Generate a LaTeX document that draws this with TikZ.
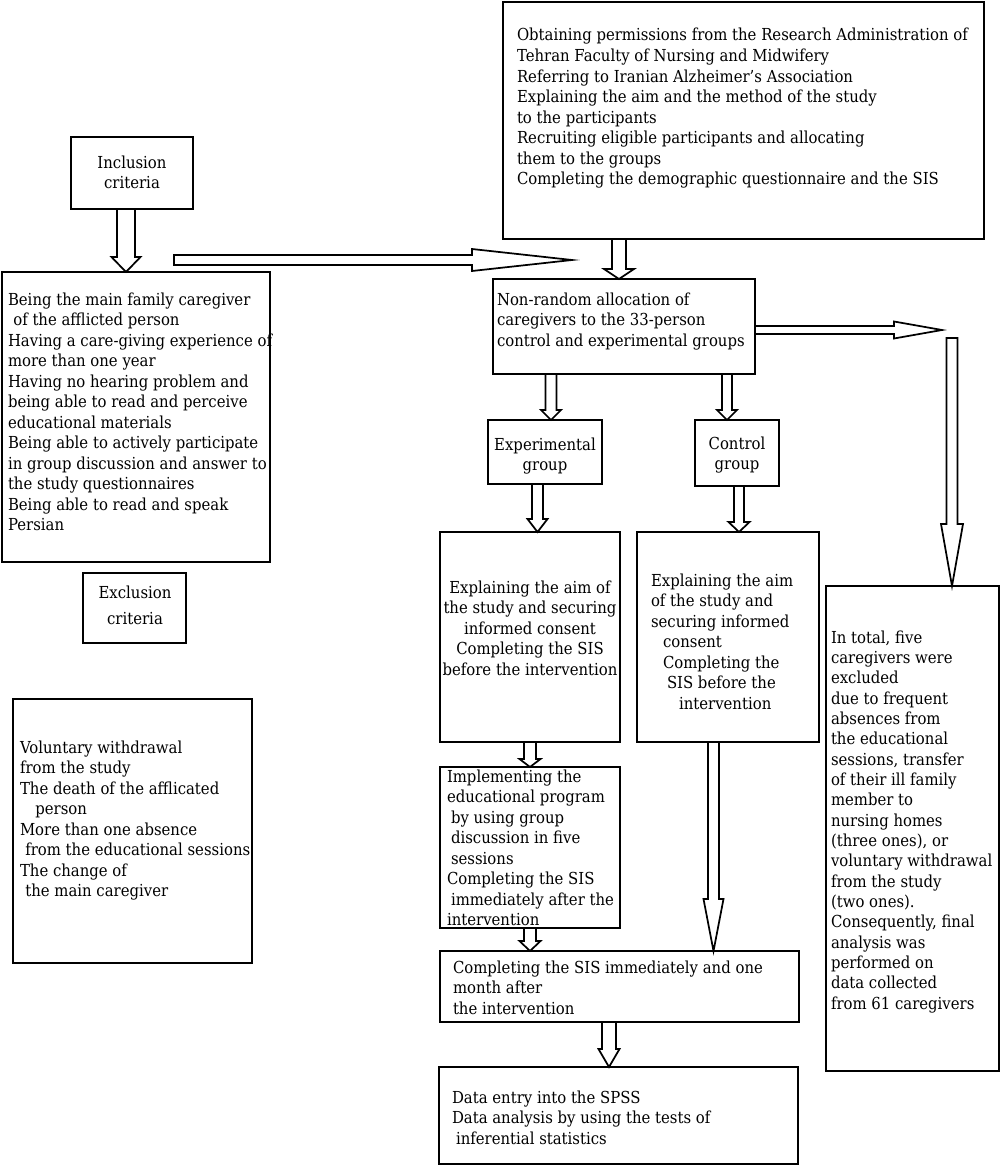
\documentclass[tikz,border=0pt]{standalone}
\usepackage{fontspec}
\setmainfont{DejaVu Serif}[FakeStretch=0.9]
\usetikzlibrary{calc}
\tikzset{
 box/.style={draw, line width=1.3pt, rectangle, inner sep=0pt, outer sep=0pt, anchor=north west},
 txt/.style={inner sep=0pt, outer sep=0pt, align=left, anchor=north west, font=\fontsize{12.4pt}{15.4pt}\selectfont},
 ctxt/.style={txt, align=center, anchor=north},
 blk/.style={draw, line width=1.3pt, line join=miter},
}
\newcommand\fl{\rule{0pt}{12pt}}
\newcommand\ind[1][4pt]{\hspace*{#1}}
\newcommand\boxnode[5]{\node[box, minimum width={(#4-#2)*0.75pt}, minimum height={(#5-#3)*0.75pt}] (#1) at (#2,#3) {};}
\newcommand\blkdown[5]{\draw[blk] ($(#1)+(-#3,0)$) -- ($(#2)+(-#3,-#5)$) -- ($(#2)+(-#4,-#5)$) -- (#2) -- ($(#2)+(#4,-#5)$) -- ($(#2)+(#3,-#5)$) -- ($(#1)+(#3,0)$) -- cycle;}
\newcommand\blkright[5]{\draw[blk] ($(#1)+(0,-#3)$) -- ($(#2)+(-#5,-#3)$) -- ($(#2)+(-#5,-#4)$) -- (#2) -- ($(#2)+(-#5,#4)$) -- ($(#2)+(-#5,#3)$) -- ($(#1)+(0,#3)$) -- cycle;}
\begin{document}
\begin{tikzpicture}[x=0.75pt,y=-0.75pt]
\useasboundingbox (0,0) rectangle (1000,1173);
% boxes
\boxnode{inc}{71}{137}{193}{209}
\boxnode{crit}{2}{272}{270}{562}
\boxnode{exc}{83}{573}{186}{643}
\boxnode{exl}{13}{699}{252}{963}
\boxnode{tr}{503}{2}{984}{239}
\boxnode{nr}{493}{279}{755}{374}
\boxnode{expg}{488}{420}{602}{484}
\boxnode{ctrlg}{695}{420}{779}{486}
\boxnode{expx}{440}{532}{620}{742}
\boxnode{ctrlx}{637}{532}{819}{742}
\boxnode{impl}{440}{767}{620}{928}
\boxnode{comp}{440}{951}{799}{1022}
\boxnode{data}{439}{1067}{798}{1164}
\boxnode{rb}{826}{586}{999}{1071}
% texts
\node[ctxt] (inc-t) at (132,152) {\fl Inclusion\\criteria};
\node[txt] (crit-t) at (8,289) {\fl Being the main family caregiver\\
 \ind of the afflicted person\\
Having a care-giving experience of\\
more than one year\\
Having no hearing problem and\\
being able to read and perceive\\
educational materials\\
Being able to actively participate\\
in group discussion and answer to\\
the study questionnaires\\
Being able to read and speak\\
Persian};
\node[ctxt] (exc-t) at (135,582) {\fl Exclusion\\[4.1pt]criteria};
\node[txt] (exl-t) at (20,737) {\fl Voluntary withdrawal\\
from the study\\
The death of the afflicated\\
\ind[8pt] person\\
More than one absence\\
\ind from the educational sessions\\
The change of\\
\ind the main caregiver};
\node[txt] (tr-t) at (517,25) {\fl Obtaining permissions from the Research Administration of\\
Tehran Faculty of Nursing and Midwifery\\
Referring to Iranian Alzheimer’s Association\\
Explaining the aim and the method of the study\\
to the participants\\
Recruiting eligible participants and allocating\\
them to the groups\\
Completing the demographic questionnaire and the SIS};
\node[txt] (nr-t) at (497,289) {\fl Non-random allocation of\\
caregivers to the 33-person\\
control and experimental groups};
\node[ctxt] (expg-t) at (545,434) {\fl Experimental\\group};
\node[ctxt] (ctrlg-t) at (737,433) {\fl Control\\group};
\node[ctxt] (expx-t) at (530,577) {\fl Explaining the aim of\\
the study and securing\\
informed consent\\
Completing the SIS\\
before the intervention};
\node[txt] (ctrlx-t) at (651,570) {\fl Explaining the aim\\
of the study and\\
securing informed\\
\ind[9pt]consent\\
\ind[9pt]Completing the\\
\ind[12pt]SIS before the\\
\ind[21pt]intervention};
\node[txt] (impl-t) at (447,766) {\fl Implementing the\\
educational program\\
\ind[3pt]by using group\\
\ind[3pt]discussion in five\\
\ind[3pt]sessions\\
Completing the SIS\\
\ind[3pt]immediately after the\\
intervention};
\node[txt] (comp-t) at (453,957) {\fl Completing the SIS immediately and one\\
month after\\
the intervention};
\node[txt] (data-t) at (452,1087) {\fl Data entry into the SPSS\\
Data analysis by using the tests of\\
\ind[3pt]inferential statistics};
\node[txt, font=\fontsize{12.4pt}{15.26pt}\selectfont] (rb-t) at (831,627) {\fl In total, five\\
caregivers were\\
excluded\\
due to frequent\\
absences from\\
the educational\\
sessions, transfer\\
of their ill family\\
member to\\
nursing homes\\
(three ones), or\\
voluntary withdrawal\\
from the study\\
(two ones).\\
Consequently, final\\
analysis was\\
performed on\\
data collected\\
from 61 caregivers};
% connector coordinates
\coordinate (a1t) at (126,0 |- inc.south);
\coordinate (a1h) at (126,0 |- crit.north);
\coordinate (a2t) at (174,260);
\coordinate (a2h) at (572,260);
\coordinate (a3t) at (619,0 |- tr.south);
\coordinate (a3h) at (619,0 |- nr.north);
\coordinate (a4t) at (nr.east |- 0,330);
\coordinate (a4h) at (942,330);
\coordinate (a5t) at (952,338);
\coordinate (a5h) at (952,0 |- rb.north);
\coordinate (a6t) at (551,0 |- nr.south);
\coordinate (a6h) at (551,0 |- expg.north);
\coordinate (a7t) at (727,0 |- nr.south);
\coordinate (a7h) at (727,0 |- ctrlg.north);
\coordinate (a8t) at (537.5,0 |- expg.south);
\coordinate (a8h) at (537.5,0 |- expx.north);
\coordinate (a9t) at (739,0 |- ctrlg.south);
\coordinate (a9h) at (739,0 |- ctrlx.north);
\coordinate (a10t) at (530,0 |- expx.south);
\coordinate (a10h) at (530,0 |- impl.north);
\coordinate (a11t) at (713.5,0 |- ctrlx.south);
\coordinate (a11h) at (713.5,0 |- comp.north);
\coordinate (a12t) at (530,0 |- impl.south);
\coordinate (a12h) at (530,0 |- comp.north);
\coordinate (a13t) at (609,0 |- comp.south);
\coordinate (a13h) at (609,0 |- data.north);
% block arrows
\blkdown{a1t}{a1h}{9}{14.5}{15}
\blkright{a2t}{a2h}{5}{11}{100}
\blkdown{a3t}{a3h}{7}{15}{10}
\blkright{a4t}{a4h}{4}{8.5}{48}
\blkdown{a5t}{a5h}{5.5}{11}{62}
\blkdown{a6t}{a6h}{5.5}{10}{10}
\blkdown{a7t}{a7h}{5}{10}{10}
\blkdown{a8t}{a8h}{5.5}{10}{13}
\blkdown{a9t}{a9h}{5}{10.5}{10}
\blkdown{a10t}{a10h}{6}{10.5}{8}
\blkdown{a11t}{a11h}{5.5}{10}{52}
\blkdown{a12t}{a12h}{6}{10.5}{10}
\blkdown{a13t}{a13h}{7}{10.5}{18}
\end{tikzpicture}
\end{document}
